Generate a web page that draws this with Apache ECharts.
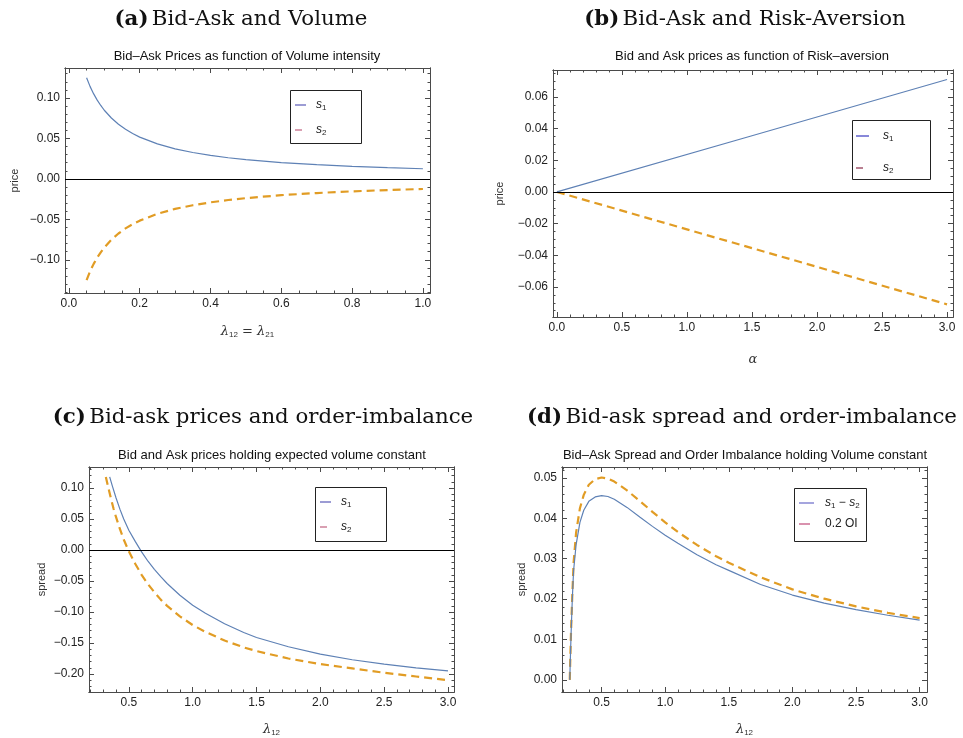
<!DOCTYPE html>
<html>
<head>
<meta charset="utf-8">
<script src="https://cdn.jsdelivr.net/npm/echarts@6/dist/echarts.min.js"></script>
<style>
  html, body { margin: 0; padding: 0; background: #fff; }
  #main { width: 963px; height: 738px; }
</style>
</head>
<body>
<div id="main"></div>
<script>
// (a) bid-ask vs volume intensity
var aX  = [0.05, 0.06, 0.07, 0.08, 0.09, 0.10, 0.12, 0.14, 0.16, 0.18, 0.20, 0.25, 0.30, 0.35, 0.40, 0.45, 0.50, 0.60, 0.70, 0.80, 0.90, 1.00];
var aS1 = [0.125, 0.114, 0.105, 0.0973, 0.0907, 0.0848, 0.0752, 0.0675, 0.0612, 0.0560, 0.0516, 0.0432, 0.0371, 0.0326, 0.0290, 0.0261, 0.0238, 0.0201, 0.0175, 0.0154, 0.0138, 0.0125];
var aS2 = [-0.125, -0.114, -0.105, -0.0973, -0.0907, -0.0848, -0.0752, -0.0675, -0.0612, -0.0560, -0.0516, -0.0432, -0.0371, -0.0326, -0.0290, -0.0261, -0.0238, -0.0201, -0.0175, -0.0154, -0.0138, -0.0125];

// (b) bid-ask vs risk aversion
var bX  = [0, 1.5, 3.0];
var bS1 = [0, 0.0355, 0.071];
var bS2 = [0, -0.0355, -0.071];

// (c) prices vs lambda12
var cX1 = [0.35, 0.37, 0.40, 0.43, 0.46, 0.50, 0.55, 0.60, 0.65, 0.70, 0.75, 0.80, 0.90, 1.00, 1.10, 1.25, 1.40, 1.50, 1.75, 2.00, 2.25, 2.50, 2.75, 3.00];
var cS1 = [0.118, 0.104, 0.084, 0.066, 0.050, 0.032, 0.014, -0.003, -0.018, -0.031, -0.043, -0.054, -0.073, -0.089, -0.102, -0.119, -0.133, -0.141, -0.156, -0.168, -0.177, -0.184, -0.190, -0.195];
var cX2 = [0.32, 0.34, 0.36, 0.38, 0.40, 0.43, 0.46, 0.50, 0.55, 0.60, 0.65, 0.70, 0.75, 0.80, 0.90, 1.00, 1.10, 1.25, 1.40, 1.50, 1.75, 2.00, 2.25, 2.50, 2.75, 3.00];
var cS2 = [0.118, 0.100, 0.083, 0.067, 0.053, 0.034, 0.017, -0.002, -0.022, -0.040, -0.055, -0.068, -0.080, -0.090, -0.107, -0.121, -0.132, -0.146, -0.157, -0.163, -0.175, -0.184, -0.191, -0.198, -0.204, -0.210];

// (d) spread vs lambda12
var dX   = [0.25, 0.26, 0.27, 0.28, 0.30, 0.33, 0.36, 0.40, 0.45, 0.50, 0.55, 0.60, 0.70, 0.80, 0.90, 1.00, 1.10, 1.25, 1.40, 1.50, 1.75, 2.00, 2.25, 2.50, 2.75, 3.00];
var dSpr = [0, 0.011, 0.020, 0.027, 0.0335, 0.0390, 0.0420, 0.0442, 0.0453, 0.0456, 0.0454, 0.0447, 0.0427, 0.0403, 0.0380, 0.0358, 0.0338, 0.0310, 0.0285, 0.0271, 0.0236, 0.0210, 0.0190, 0.0174, 0.0160, 0.0148];
var dOI  = [0, 0.012, 0.021, 0.029, 0.0365, 0.0425, 0.0458, 0.0483, 0.0497, 0.0501, 0.0498, 0.0491, 0.0469, 0.0443, 0.0416, 0.0390, 0.0366, 0.0334, 0.0306, 0.0290, 0.0254, 0.0224, 0.0201, 0.0182, 0.0166, 0.0153];

// tick labels
var aXTicks = [0, 0.2, 0.4, 0.6, 0.8, 1.0];
var aYTicks = [-0.10, -0.05, 0, 0.05, 0.10];
var bXTicks = [0, 0.5, 1.0, 1.5, 2.0, 2.5, 3.0];
var bYTicks = [-0.06, -0.04, -0.02, 0, 0.02, 0.04, 0.06];
var cXTicks = [0.5, 1.0, 1.5, 2.0, 2.5, 3.0];
var cYTicks = [-0.20, -0.15, -0.10, -0.05, 0, 0.05, 0.10];
var dXTicks = [0.5, 1.0, 1.5, 2.0, 2.5, 3.0];
var dYTicks = [0, 0.01, 0.02, 0.03, 0.04, 0.05];

var frameColor = '#4a4a4a';
var blue = '#5e81b5';
var orange = '#e19c24';
var sans = 'Liberation Sans';
var serif = 'DejaVu Serif';

function steps(a, b, d) {
    var out = [];
    var n = Math.round((b - a) / d);
    for (var i = 0; i <= n; i++) out.push(+(a + i * d).toFixed(6));
    return out;
}
function zip(xs, ys) {
    return xs.map(function (x, i) { return [x, ys[i]]; });
}
function fmt(d) {
    return function (v) { return v.toFixed(d).replace('-', '\u2212'); };
}

var subRich = {
    i: { fontFamily: serif, fontStyle: 'italic', fontSize: 13, color: '#333' },
    t: { fontFamily: serif, fontSize: 13, color: '#333' },
    s: { fontFamily: sans, fontSize: 8, color: '#333', verticalAlign: 'bottom', padding: [6, 0, 0, 0] }
};

// main axis (labels + major ticks), minor ticks, and the mirrored pair on the far side
function axes(dim, gi, min, max, major, minor, dec, name, gap, rotate) {
    var base = {
        gridIndex: gi, type: 'value', min: min, max: max,
        splitLine: { show: false },
        axisLine: { onZero: false, lineStyle: { color: frameColor, width: 1 } }
    };
    var p1 = dim === 'x' ? 'bottom' : 'left';
    var p2 = dim === 'x' ? 'top' : 'right';
    function tick(vals, len) {
        return { inside: true, length: len, customValues: vals, lineStyle: { color: frameColor, width: 1 } };
    }
    var mainAxis = Object.assign({}, base, {
        position: p1,
        name: name, nameLocation: 'middle', nameGap: gap, nameRotate: rotate || 0,
        nameTextStyle: { fontFamily: sans, fontSize: 11, color: '#333', rich: subRich },
        axisTick: tick(major, 5),
        axisLabel: { customValues: major, formatter: fmt(dec), margin: 5, color: '#222', fontSize: 12, fontFamily: sans }
    });
    return [
        mainAxis,
        Object.assign({}, base, { position: p1, axisTick: tick(minor, 2.5), axisLabel: { show: false } }),
        Object.assign({}, base, { position: p2, axisTick: tick(major, 5), axisLabel: { show: false } }),
        Object.assign({}, base, { position: p2, axisTick: tick(minor, 2.5), axisLabel: { show: false } })
    ];
}

var zeroLine = {
    silent: true, symbol: 'none', label: { show: false },
    lineStyle: { color: '#000', width: 1, type: 'solid' },
    data: [{ yAxis: 0 }]
};

function solid(gi, data, mark) {
    var s = {
        type: 'line', xAxisIndex: gi * 4, yAxisIndex: gi * 4, data: data,
        showSymbol: false, smooth: false,
        lineStyle: { color: blue, width: 1.2 }, itemStyle: { color: blue }, z: 3
    };
    if (mark) s.markLine = zeroLine;
    return s;
}
function dashed(gi, data) {
    return {
        type: 'line', xAxisIndex: gi * 4, yAxisIndex: gi * 4, data: data,
        showSymbol: false, smooth: false,
        lineStyle: { color: orange, width: 2.2, type: [8, 5] }, itemStyle: { color: orange }, z: 2
    };
}

function legendBox(x, y, w, h, rows) {
    var els = [{ type: 'rect', shape: { x: x, y: y, width: w, height: h }, style: { fill: '#fff', stroke: '#222', lineWidth: 1 }, z: 10 }];
    rows.forEach(function (r) {
        els.push({ type: 'line', shape: { x1: r.x1, y1: r.y, x2: r.x2, y2: r.y }, style: { stroke: r.color, lineWidth: 1.2 }, z: 11 });
        els.push({
            type: 'text', x: r.tx, y: r.y, z: 11,
            style: {
                text: r.text, verticalAlign: 'middle', align: 'left',
                fontFamily: sans, fontSize: 12, fill: '#222',
                rich: {
                    i: { fontFamily: sans, fontStyle: 'italic', fontSize: 12, fill: '#222' },
                    n: { fontFamily: sans, fontSize: 12, fill: '#222' },
                    s: { fontFamily: sans, fontSize: 8, fill: '#222', verticalAlign: 'bottom', padding: [5, 0, 0, 0] }
                }
            }
        });
    });
    return els;
}

function heading(x, y, label, text) {
    return {
        type: 'text', x: x, y: y,
        style: {
            text: '{b|' + label + '} {r|' + text + '}', align: 'center', verticalAlign: 'middle',
            rich: {
                b: { fontFamily: serif, fontWeight: 'bold', fontSize: 21.3, fill: '#111' },
                r: { fontFamily: serif, fontSize: 21.3, fill: '#111' }
            }
        }
    };
}
function subTitle(x, y, text) {
    return {
        type: 'text', x: x, y: y,
        style: { text: text, align: 'center', verticalAlign: 'middle', fontFamily: sans, fontSize: 13, fill: '#111' }
    };
}

var chart = echarts.init(document.getElementById('main'), null, { renderer: 'canvas' });

var xAxis = [].concat(
    axes('x', 0, -0.011, 1.02, aXTicks, steps(0, 1.0, 0.05), 1, '{i|λ}{s|12}{t| = }{i|λ}{s|21}', 32),
    axes('x', 1, -0.03, 3.046, bXTicks, steps(0, 3.0, 0.1), 1, '{i|α}', 36),
    axes('x', 2, 0.188, 3.047, cXTicks, steps(0.2, 3.0, 0.1), 1, '{i|λ}{s|12}', 31),
    axes('x', 3, 0.189, 3.058, dXTicks, steps(0.2, 3.0, 0.1), 1, '{i|λ}{s|12}', 31)
);
var yAxis = [].concat(
    axes('y', 0, -0.141, 0.137, aYTicks, steps(-0.14, 0.13, 0.01), 2, 'price', 45, 90),
    axes('y', 1, -0.079, 0.077, bYTicks, steps(-0.075, 0.075, 0.005), 2, 'price', 48, 90),
    axes('y', 2, -0.229, 0.134, cYTicks, steps(-0.22, 0.13, 0.01), 2, 'spread', 42, 90),
    axes('y', 3, -0.003, 0.0527, dYTicks, steps(0, 0.052, 0.002), 2, 'spread', 35, 90)
);

chart.setOption({
    animation: false,
    grid: [
        { left: 65, top: 68, width: 365, height: 225 },
        { left: 553, top: 70, width: 400, height: 247 },
        { left: 89, top: 467, width: 365, height: 225 },
        { left: 562, top: 467, width: 365, height: 225 }
    ],
    xAxis: xAxis,
    yAxis: yAxis,
    series: [
        solid(0, zip(aX, aS1), true),
        dashed(0, zip(aX, aS2)),
        solid(1, zip(bX, bS1), true),
        dashed(1, zip(bX, bS2)),
        solid(2, zip(cX1, cS1), true),
        dashed(2, zip(cX2, cS2)),
        solid(3, zip(dX, dSpr), false),
        dashed(3, zip(dX, dOI))
    ],
    graphic: [
        heading(241, 19, '(a)', 'Bid-Ask and Volume'),
        heading(745, 19, '(b)', 'Bid-Ask and Risk-Aversion'),
        heading(263, 417, '(c)', 'Bid-ask prices and order-imbalance'),
        heading(742, 417, '(d)', 'Bid-ask spread and order-imbalance'),
        subTitle(247, 56, 'Bid\u2013Ask Prices as function of Volume intensity'),
        subTitle(752, 56, 'Bid and Ask prices as function of Risk\u2013aversion'),
        subTitle(272, 455, 'Bid and Ask prices holding expected volume constant'),
        subTitle(745, 455, 'Bid\u2013Ask Spread and Order Imbalance holding Volume constant')
    ].concat(
        legendBox(290.5, 90.5, 71, 53, [
            { x1: 295, x2: 306, y: 105, tx: 316, color: '#5a5ab8', text: '{i|s}{s|1}' },
            { x1: 295, x2: 302, y: 130, tx: 316, color: '#c0607e', text: '{i|s}{s|2}' }
        ]),
        legendBox(852.5, 120.5, 78, 59, [
            { x1: 856, x2: 869, y: 136, tx: 883, color: '#3a3ac0', text: '{i|s}{s|1}' },
            { x1: 856, x2: 863, y: 168, tx: 883, color: '#8a2a48', text: '{i|s}{s|2}' }
        ]),
        legendBox(315.5, 487.5, 71, 54, [
            { x1: 320, x2: 331, y: 502, tx: 341, color: '#5a5ab8', text: '{i|s}{s|1}' },
            { x1: 320, x2: 327, y: 527, tx: 341, color: '#c0607e', text: '{i|s}{s|2}' }
        ]),
        legendBox(794.5, 488.5, 72, 53, [
            { x1: 799, x2: 814, y: 503, tx: 825, color: '#6a6ac8', text: '{i|s}{s|1}{n| \u2212 }{i|s}{s|2}' },
            { x1: 799, x2: 810, y: 524, tx: 825, color: '#c04878', text: '{n|0.2 OI}' }
        ])
    )
});
</script>
</body>
</html>
